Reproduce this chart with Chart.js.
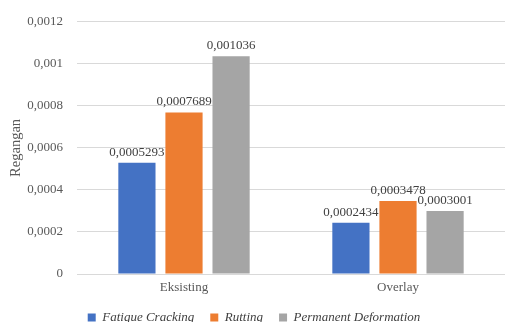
<!DOCTYPE html>
<html>
<head>
<meta charset="utf-8">
<script src="https://cdn.jsdelivr.net/npm/chart.js@4"></script>
<style>
html,body{margin:0;padding:0;background:#fff;}
#wrap{width:505px;height:322px;position:relative;overflow:hidden;}
</style>
</head>
<body>
<div id="wrap"><canvas id="c" width="505" height="322"></canvas></div>
<script>
const categories = ["Eksisting", "Overlay"];
const seriesNames = ["Fatigue Cracking", "Rutting", "Permanent Deformation"];
const fatigueCracking = [0.0005293, 0.0002434];
const rutting = [0.0007689, 0.0003478];
const permanentDeformation = [0.001036, 0.0003001];
const yTicks = [0, 0.0002, 0.0004, 0.0006, 0.0008, 0.001, 0.0012];
const colors = ["#4472C4", "#ED7D31", "#A5A5A5"];

const fmt = v => String(v).replace('.', ',');
const fontFam = "Liberation Serif";
Chart.defaults.font.family = fontFam;

const labelPlugin = {
  id: 'valueLabels',
  afterDatasetsDraw(chart) {
    const ctx = chart.ctx;
    ctx.save();
    ctx.font = "13px \"Liberation Serif\"";
    ctx.fillStyle = "#404040";
    ctx.textAlign = "center";
    ctx.textBaseline = "bottom";
    chart.data.datasets.forEach((ds, i) => {
      const meta = chart.getDatasetMeta(i);
      meta.data.forEach((bar, j) => {
        ctx.fillText(fmt(ds.data[j]), bar.x, bar.y - 4);
      });
    });
    ctx.restore();
  }
};

new Chart(document.getElementById('c'), {
  type: 'bar',
  data: {
    labels: categories,
    datasets: [
      {label: seriesNames[0], data: fatigueCracking, backgroundColor: colors[0]},
      {label: seriesNames[1], data: rutting, backgroundColor: colors[1]},
      {label: seriesNames[2], data: permanentDeformation, backgroundColor: colors[2]}
    ]
  },
  options: {
    responsive: false,
    animation: false,
    devicePixelRatio: 1,
    layout: {padding: {top: 9, right: 0, left: 3, bottom: -12}},
    datasets: {bar: {categoryPercentage: 0.66, barPercentage: 0.79}},
    plugins: {
      legend: {
        position: 'bottom',
        labels: {
          boxWidth: 8, boxHeight: 8, padding: 16,
          color: "#404040",
          font: {family: fontFam, size: 13, style: 'italic'}
        }
      },
      tooltip: {enabled: false}
    },
    scales: {
      x: {
        afterFit(scale) { scale.height = 21; },
        grid: {display: false, drawTicks: false},
        border: {display: true, color: "#d9d9d9"},
        ticks: {color: "#595959", font: {family: fontFam, size: 13}, padding: 6}
      },
      y: {
        min: 0, max: 0.0012,
        afterFit(scale) { scale.width = 74; },
        afterBuildTicks(axis) { axis.ticks = yTicks.map(v => ({value: v})); },
        grid: {color: "#d9d9d9", drawTicks: false},
        border: {display: false},
        ticks: {
          color: "#595959", font: {family: fontFam, size: 13}, padding: 14,
          callback: v => fmt(Number(v.toFixed(4)))
        },
        title: {display: true, text: "Regangan", color: "#595959", font: {family: fontFam, size: 14.5}}
      }
    }
  },
  plugins: [labelPlugin]
});
</script>
</body>
</html>
